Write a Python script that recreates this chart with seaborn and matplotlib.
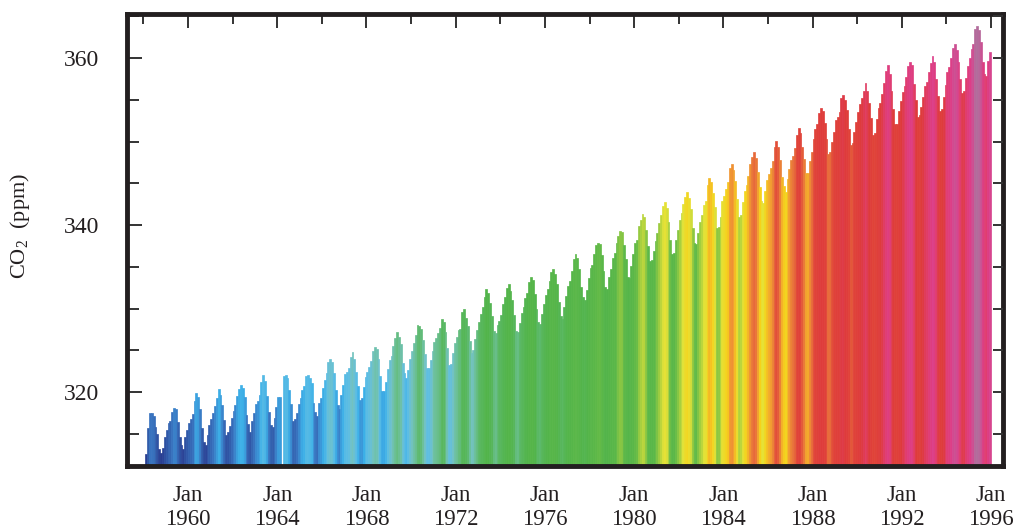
import numpy as np
import pandas as pd
import matplotlib
matplotlib.use("Agg")
import matplotlib.pyplot as plt
import seaborn as sns
from matplotlib.colors import LinearSegmentedColormap, Normalize
from matplotlib.ticker import MultipleLocator

nan = float("nan")

# Monthly CO2 (ppm), Jan..Dec of each year
co2_1958 = [nan, 312.60, 315.71, 317.45, 317.50, 317.10, 315.86, 314.93, 313.20, 312.66, 313.33, 314.67]
co2_1959 = [315.42, 316.31, 316.50, 317.56, 318.13, 318.00, 316.39, 314.65, 313.68, 313.18, 314.66, 315.43]
co2_1960 = [316.27, 316.81, 317.42, 318.87, 319.87, 319.43, 318.01, 315.74, 314.00, 313.68, 314.84, 316.03]
co2_1961 = [316.73, 317.54, 318.38, 319.31, 320.42, 319.61, 318.42, 316.63, 314.83, 315.16, 315.94, 316.85]
co2_1962 = [317.78, 318.40, 319.53, 320.42, 320.85, 320.45, 319.45, 317.25, 316.11, 315.27, 316.53, 317.53]
co2_1963 = [318.58, 318.92, 319.70, 321.22, 322.08, 321.31, 319.58, 317.61, 316.05, 315.83, 316.91, 318.20]
co2_1964 = [319.41, 319.40, nan, 321.90, 322.06, 321.73, 320.27, 318.54, 316.54, 316.71, 317.53, 318.55]
co2_1965 = [319.27, 320.28, 320.73, 321.97, 322.00, 321.71, 321.05, 318.71, 317.66, 317.14, 318.70, 319.25]
co2_1966 = [320.46, 321.43, 322.23, 323.54, 323.91, 323.59, 322.24, 320.20, 318.48, 317.94, 319.63, 320.87]
co2_1967 = [322.17, 322.34, 322.88, 324.25, 324.83, 323.93, 322.38, 320.76, 319.10, 319.24, 320.56, 321.80]
co2_1968 = [322.40, 322.99, 323.73, 324.86, 325.40, 325.20, 323.98, 321.95, 320.18, 320.09, 321.16, 322.74]
co2_1969 = [323.83, 324.26, 325.47, 326.50, 327.21, 326.54, 325.72, 323.50, 322.22, 321.62, 322.69, 323.95]
co2_1970 = [324.89, 325.82, 326.77, 327.97, 327.91, 327.50, 326.18, 324.53, 322.93, 322.90, 323.85, 324.96]
co2_1971 = [326.01, 326.51, 327.01, 327.62, 328.76, 328.40, 327.20, 325.27, 323.20, 323.40, 324.63, 325.85]
co2_1972 = [326.60, 327.47, 327.58, 329.56, 329.90, 328.92, 327.88, 326.16, 324.68, 325.04, 326.34, 327.39]
co2_1973 = [328.37, 329.40, 330.14, 331.33, 332.31, 331.90, 330.70, 329.15, 327.35, 327.02, 327.99, 328.48]
co2_1974 = [329.18, 330.55, 331.32, 332.48, 332.92, 332.08, 331.01, 329.23, 327.27, 327.21, 328.29, 329.41]
co2_1975 = [330.23, 331.25, 331.87, 333.14, 333.80, 333.43, 331.73, 329.90, 328.40, 328.17, 329.32, 330.59]
co2_1976 = [331.58, 332.39, 333.33, 334.41, 334.71, 334.17, 332.89, 330.77, 329.14, 328.78, 330.14, 331.52]
co2_1977 = [332.75, 333.24, 334.53, 335.90, 336.57, 336.10, 334.76, 332.59, 331.42, 330.98, 332.24, 333.68]
co2_1978 = [334.80, 335.22, 336.47, 337.59, 337.84, 337.72, 336.37, 334.51, 332.60, 332.38, 333.75, 334.78]
co2_1979 = [336.05, 336.59, 337.79, 338.71, 339.30, 339.12, 337.56, 335.92, 333.75, 333.70, 335.12, 336.56]
co2_1980 = [337.84, 338.19, 339.91, 340.60, 341.29, 341.00, 339.39, 337.43, 335.72, 335.84, 336.93, 338.04]
co2_1981 = [339.06, 340.30, 341.21, 342.33, 342.74, 342.08, 340.32, 338.26, 336.52, 336.68, 338.19, 339.44]
co2_1982 = [340.57, 341.44, 342.53, 343.39, 343.96, 343.18, 341.88, 339.65, 337.81, 337.69, 339.09, 340.32]
co2_1983 = [341.20, 342.35, 342.93, 344.77, 345.58, 345.14, 343.81, 342.21, 339.69, 339.82, 340.98, 342.82]
co2_1984 = [343.52, 344.33, 345.11, 346.88, 347.25, 346.62, 345.22, 343.11, 340.90, 341.18, 342.80, 344.04]
co2_1985 = [344.79, 345.82, 347.25, 348.17, 348.74, 348.07, 346.38, 344.51, 342.92, 342.62, 344.06, 345.38]
co2_1986 = [346.11, 346.78, 347.68, 349.37, 350.03, 349.37, 347.76, 345.73, 344.68, 343.99, 345.48, 346.72]
co2_1987 = [347.84, 348.29, 349.23, 350.80, 351.66, 351.07, 349.33, 347.92, 346.27, 346.18, 347.64, 348.78]
co2_1988 = [350.25, 351.54, 352.05, 353.41, 354.04, 353.62, 352.22, 350.27, 348.55, 348.72, 349.91, 351.18]
co2_1989 = [352.60, 352.92, 353.53, 355.26, 355.52, 354.97, 353.75, 351.52, 349.64, 349.83, 351.14, 352.37]
co2_1990 = [353.50, 354.55, 355.23, 356.04, 357.00, 356.07, 354.67, 352.76, 350.82, 351.04, 352.69, 354.07]
co2_1991 = [354.59, 355.63, 357.03, 358.48, 359.22, 358.12, 356.06, 353.92, 352.05, 352.11, 353.64, 354.89]
co2_1992 = [355.88, 356.63, 357.72, 359.07, 359.58, 359.17, 356.94, 354.92, 352.94, 353.23, 354.09, 355.33]
co2_1993 = [356.63, 357.10, 358.32, 359.41, 360.23, 359.55, 357.53, 355.48, 353.67, 353.95, 355.30, 356.78]
co2_1994 = [358.34, 358.89, 359.95, 361.25, 361.67, 360.94, 359.55, 357.49, 355.84, 356.00, 357.59, 359.05]
co2_1995 = [359.98, 361.03, 361.66, 363.48, 363.82, 363.30, 361.94, 359.50, 358.11, 357.80, 359.61, 360.74]

years = list(range(1958, 1996))
series = [co2_1958, co2_1959, co2_1960, co2_1961, co2_1962, co2_1963, co2_1964,
          co2_1965, co2_1966, co2_1967, co2_1968, co2_1969, co2_1970, co2_1971,
          co2_1972, co2_1973, co2_1974, co2_1975, co2_1976, co2_1977, co2_1978,
          co2_1979, co2_1980, co2_1981, co2_1982, co2_1983, co2_1984, co2_1985,
          co2_1986, co2_1987, co2_1988, co2_1989, co2_1990, co2_1991, co2_1992,
          co2_1993, co2_1994, co2_1995]

tick_years = [1960, 1964, 1968, 1972, 1976, 1980, 1984, 1988, 1992, 1996]
tick_labels = ["Jan\n%d" % y for y in tick_years]
y_tick_values = [320, 340, 360]

# colour scale (by CO2 value)
stop_values = [311.5, 314.0, 316.0, 317.5, 319.0, 320.5, 322.5, 324.5, 326.5, 328.5,
               332.0, 337.5, 340.0, 342.5, 344.5, 346.5, 348.5, 350.5, 355.0, 357.5,
               360.5, 363.8]
stop_colors = ["#27368a", "#2d4a9c", "#3260ae", "#3874c0", "#3a96d8", "#3bb0e8",
               "#5cbde4", "#72c2c6", "#6abf92", "#58b760", "#52b44a", "#5cb848",
               "#96ca40", "#e4e236", "#f6d21a", "#f2a22e", "#e8703a", "#e04438",
               "#de3a3c", "#e03c6c", "#dc3e8c", "#b26c9c"]
vmin, vmax = stop_values[0], stop_values[-1]
cmap = LinearSegmentedColormap.from_list(
    "co2", [((v - vmin) / (vmax - vmin), c) for v, c in zip(stop_values, stop_colors)])
norm = Normalize(vmin, vmax)

rows = []
for y, vals in zip(years, series):
    for m, v in enumerate(vals):
        rows.append({"t": y + (m + 0.5) / 12.0, "co2": v, "key": "%d-%02d" % (y, m + 1)})
df = pd.DataFrame(rows).dropna().reset_index(drop=True)
palette = {k: cmap(norm(v)) for k, v in zip(df["key"], df["co2"])}

sns.set_theme(style="white")
plt.rcParams["font.family"] = ["Liberation Serif", "DejaVu Serif"]
plt.rcParams["mathtext.fontset"] = "custom"
plt.rcParams["mathtext.rm"] = "Liberation Serif"
plt.rcParams["mathtext.it"] = "Liberation Serif:italic"

fig = plt.figure(figsize=(10.15, 5.32), dpi=100)
ax = fig.add_axes([127 / 1015, 1 - 466 / 532, (1003 - 127) / 1015, (466 - 14) / 532])

sns.barplot(data=df, x="t", y="co2", hue="key", palette=palette, native_scale=True,
            width=1.0, dodge=False, legend=False, saturation=1.0, errorbar=None,
            linewidth=0, ax=ax)
for p in ax.patches:
    p.set_edgecolor(p.get_facecolor())
    p.set_linewidth(0.5)

ax.set_xlim(1957.265, 1996.538)
ax.set_ylim(311.14, 365.27)

ink = "#231f20"
for s in ax.spines.values():
    s.set_linewidth(3.5)
    s.set_color(ink)
    s.set_visible(True)
    s.set_zorder(5)

ax.set_xticks(tick_years)
ax.set_xticklabels(tick_labels, fontsize=16.5, color=ink, linespacing=1.15)
ax.xaxis.set_minor_locator(MultipleLocator(2))
ax.tick_params(axis="x", which="both", bottom=False, top=True, labelbottom=True,
               direction="in", color="#333333", width=1.4, pad=14)
ax.tick_params(axis="x", which="major", length=10)
ax.tick_params(axis="x", which="minor", length=7)

ax.set_yticks(y_tick_values)
ax.set_yticklabels([str(v) for v in y_tick_values], fontsize=17, color=ink)
ax.yaxis.set_minor_locator(MultipleLocator(5))
ax.tick_params(axis="y", which="both", left=True, right=False, direction="in",
               color="#333333", width=1.4, pad=20)
ax.tick_params(axis="y", which="major", length=11)
ax.tick_params(axis="y", which="minor", length=8.5)

ax2 = ax.twinx()
ax2.set_ylim(ax.get_ylim())
ax2.yaxis.set_major_locator(MultipleLocator(5))
ax2.tick_params(axis="y", which="both", right=True, direction="in", color="#333333",
                width=1.4, length=7, labelright=False)
for s in ax2.spines.values():
    s.set_visible(False)

ax.set_xlabel("")
ax.set_ylabel("CO$_2$  (ppm)", fontsize=16, color=ink)
ax.yaxis.set_label_coords(-0.109, 0.53)
ax.grid(False)

fig.savefig("out.png", dpi=100)
